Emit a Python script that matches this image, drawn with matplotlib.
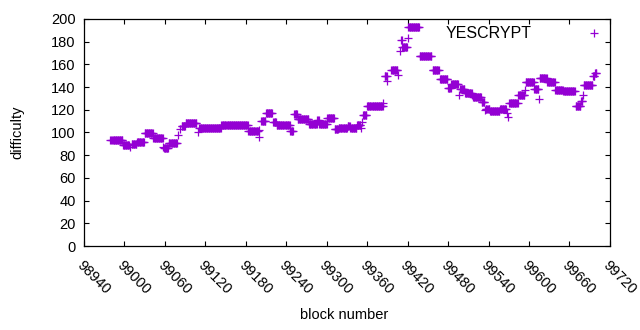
import numpy as np
import matplotlib
matplotlib.use("Agg")
import matplotlib.pyplot as plt

# runs of blocks with the same difficulty: first block, last block, difficulty
run_start = [98979, 98981, 98998, 99009, 99011, 99019, 99030, 99043, 99058, 99059,
             99066, 99080, 99082, 99085, 99091, 99109, 99111, 99144, 99172, 99184,
             99199, 99200, 99203, 99210, 99221, 99226, 99246, 99251, 99253, 99257,
             99274, 99286, 99289, 99301, 99312, 99318, 99331, 99335, 99345, 99351,
             99353, 99354, 99360, 99384, 99386, 99390, 99396, 99406, 99409, 99410,
             99412, 99420, 99421, 99438, 99457, 99468, 99480, 99485, 99496, 99498,
             99505, 99516, 99517, 99530, 99535, 99536, 99542, 99557, 99567, 99569,
             99571, 99584, 99594, 99595, 99608, 99615, 99616, 99627, 99639, 99651,
             99669, 99677, 99680, 99681, 99695, 99698]
run_end = [98979, 98997, 99007, 99009, 99018, 99029, 99042, 99057, 99058, 99065,
           99078, 99080, 99082, 99090, 99107, 99109, 99143, 99171, 99183, 99198,
           99199, 99200, 99209, 99219, 99225, 99245, 99250, 99251, 99256, 99273,
           99285, 99288, 99300, 99311, 99317, 99330, 99334, 99344, 99350, 99351,
           99353, 99359, 99383, 99384, 99389, 99390, 99405, 99406, 99409, 99411,
           99419, 99420, 99437, 99455, 99466, 99479, 99484, 99495, 99496, 99504,
           99515, 99516, 99529, 99534, 99535, 99541, 99556, 99566, 99567, 99569,
           99583, 99593, 99594, 99607, 99614, 99615, 99626, 99638, 99650, 99668,
           99676, 99679, 99680, 99694, 99697, 99700]
run_diff = [93, 93, 89, 87, 90, 91.5, 99.5, 95, 87.5, 86,
            90.5, 98, 103, 105.5, 108, 100, 104, 107, 106.3, 101,
            96, 102, 110.5, 117, 109.5, 107, 101, 116, 116.5, 111.6,
            107.2, 110.6, 107.2, 112.5, 102.8, 104.2, 105.4, 104.4, 106.6, 103.7,
            109.5, 115.4, 123.3, 126, 150, 145, 155, 150.7, 172, 181.5,
            175.2, 183, 192.8, 167.1, 154.8, 147, 139.6, 142.9, 133, 138,
            135, 133, 131.1, 126.5, 120, 120.4, 118.6, 120.4, 117.5, 113.4,
            126.4, 132.8, 137.4, 144.8, 138, 129.2, 147.7, 144.5, 137, 136.5,
            123.3, 128, 133, 142.2, 150.2, 152]

blocks = np.concatenate([np.arange(s, e + 1) for s, e in zip(run_start, run_end)])
lengths = np.array(run_end) - np.array(run_start) + 1
difficulty = np.repeat(run_diff, lengths)

plt.rcParams['font.family'] = ['Liberation Sans', 'DejaVu Sans']
plt.rcParams['font.size'] = 10.5

fig = plt.figure(figsize=(6.4, 3.3), dpi=100)
ax = fig.add_axes([0.131, 0.2545, 0.822, 0.688])

ax.plot(blocks, difficulty, '+', color='#9400d3', markersize=5.5, mew=0.9,
        label='YESCRYPT')

ax.set_xlim(98940, 99720)
ax.set_ylim(0, 200)
ax.set_xticks(np.arange(98940, 99721, 60))
ax.set_yticks(np.arange(0, 201, 20))
ax.tick_params(direction='in', top=True, right=True, length=3.5, width=0.8,
               labelsize=10.5)
ax.tick_params(axis='x', pad=9)
ax.tick_params(axis='y', pad=6)
plt.setp(ax.get_xticklabels(), rotation=-45, ha='left', va='top',
         rotation_mode='anchor')
for s in ax.spines.values():
    s.set_linewidth(0.9)

fig.text(0.027, 0.60, 'difficulty', rotation=90, ha='center', va='center',
         fontsize=10.5)
fig.text(0.537, 0.045, 'block number', ha='center', va='center', fontsize=10.5)

ax.legend(loc='upper right', bbox_to_anchor=(1.0, 0.968), frameon=False,
          markerfirst=False, handlelength=2, handletextpad=2.9,
          borderaxespad=0, borderpad=0, fontsize=11.5)

fig.savefig('out.png', dpi=100)
